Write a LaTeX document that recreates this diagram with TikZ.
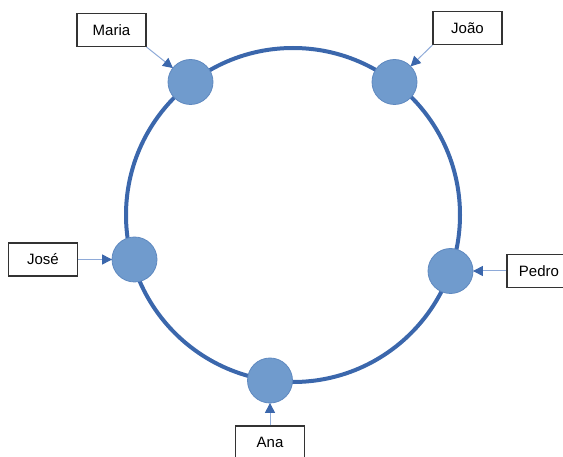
\documentclass[tikz,border=0pt]{standalone}
\usepackage{fontspec}
\setmainfont{Liberation Sans}
\usetikzlibrary{arrows.meta}
\definecolor{ringblue}{HTML}{3B67AC}
\definecolor{nodefill}{HTML}{709BCD}
\definecolor{nodeedge}{HTML}{5F89C0}
\definecolor{linkblue}{HTML}{8EAAD8}
\definecolor{boxedge}{HTML}{333333}
\tikzset{
  ring/.style={circle, draw=ringblue, line width=4pt, minimum size=334pt, inner sep=0pt},
  peer/.style={circle, fill=nodefill, draw=nodeedge, line width=0.8pt, minimum size=45pt, inner sep=0pt},
  namebox/.style={draw=boxedge, line width=1.1pt, fill=white, minimum width=69pt, minimum height=33pt, inner sep=0pt, font=\fontsize{15}{18}\selectfont},
  pointer/.style={draw=linkblue, line width=1pt, -{Triangle[length=10pt,width=10pt,color=ringblue]}, shorten >=-0.5pt}
}
\begin{document}
\begin{tikzpicture}[x=1pt,y=-1pt]
  \useasboundingbox (0,0) rectangle (563,457);
  \begin{scope}
  \clip (0,0) rectangle (563,457);

  % the ring and the peers sitting on it
  \node[ring] (ring) at (293,215) {};
  \node[peer] (maria) at (190.5,82) {};
  \node[peer] (joao)  at (394.5,82) {};
  \node[peer] (jose)  at (134.5,259.5) {};
  \node[peer] (pedro) at (450.5,271) {};
  \node[peer] (ana)   at (270,380.5) {};

  % name labels
  \node[namebox] (lmaria) at (111.5,30) {Maria};
  \node[namebox] (ljoao)  at (467.5,28) {João};
  \node[namebox] (ljose)  at (43,259.5) {José};
  \node[namebox, minimum width=64pt] (lpedro) at (539,271) {Pedro};
  \node[namebox] (lana)   at (270,442.5) {Ana};

  % pointers from labels to peers
  \draw[pointer] (lmaria.south east) -- (maria);
  \draw[pointer] (ljoao.south west) -- (joao);
  \draw[pointer] (ljose.east) -- (jose);
  \draw[pointer] (lpedro.west) -- (pedro);
  \draw[pointer] (lana.north) -- (ana);
  \end{scope}
\end{tikzpicture}
\end{document}
